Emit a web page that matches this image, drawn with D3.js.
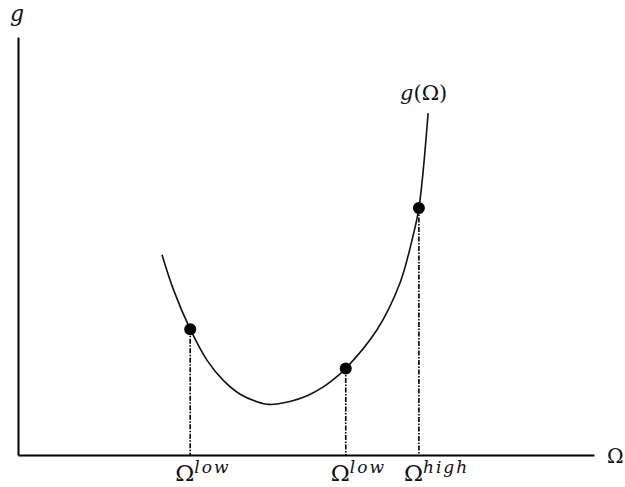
<!DOCTYPE html>
<html>
<head>
<meta charset="utf-8">
<script src="https://cdn.jsdelivr.net/npm/d3@7"></script>
<style>
  html, body { margin: 0; padding: 0; background: #fff; }
  svg { display: block; }
  text { font-family: "DejaVu Serif", "Liberation Serif", serif; fill: #111; }
</style>
</head>
<body>
<svg id="chart" width="625" height="487"></svg>
<script>
// Curve g(Ω): sampled points (Ω, g) in arbitrary units
const curveOmega = [25.0, 27.0, 29.9, 32.8, 35.6, 38.5, 41.4, 43.6, 47.2, 50.1, 53.0, 55.3, 56.9, 62.3, 66.3, 68.4, 69.6, 71.2];
const curveG     = [47.9, 39.5, 30.1, 22.7, 17.9, 14.6, 12.8, 12.1, 12.8, 14.1, 16.3, 18.7, 20.7, 29.9, 41.1, 51.4, 59.1, 81.8];

// Marked points on the curve and their axis labels
const pointOmega = [29.9, 56.9, 69.6];
const pointG     = [30.1, 20.7, 59.1];
const pointBase  = ["Ω", "Ω", "Ω"];
const pointSup   = ["low", "low", "high"];

// Axis titles and curve label
const yTitle = "g";
const xTitle = "Ω";
const curveLabel = ["g", "(Ω)"];

const svg = d3.select("#chart");

const x = d3.scaleLinear().domain([0, 100]).range([18, 594]);
const y = d3.scaleLinear().domain([0, 100]).range([455, 37]);

// Axes: plain lines, no ticks
svg.append("g")
  .attr("transform", `translate(0,${y(0)})`)
  .call(d3.axisBottom(x).tickValues([]).tickSizeOuter(0))
  .call(g => g.select(".domain").attr("stroke", "#000").attr("stroke-width", 2));

svg.append("g")
  .attr("transform", `translate(${x(0)},0)`)
  .call(d3.axisLeft(y).tickValues([]).tickSizeOuter(0))
  .call(g => g.select(".domain").attr("stroke", "#000").attr("stroke-width", 2));

// Dash-dot drop lines from each point down to the Ω axis
svg.append("g")
  .selectAll("line")
  .data(pointOmega)
  .join("line")
  .attr("x1", d => x(d))
  .attr("x2", d => x(d))
  .attr("y1", (d, i) => y(pointG[i]))
  .attr("y2", y(0))
  .attr("stroke", "#000")
  .attr("stroke-width", 1.6)
  .attr("stroke-dasharray", "5,1.5,1.5,1.5");

// The curve
const line = d3.line()
  .x(d => x(d[0]))
  .y(d => y(d[1]))
  .curve(d3.curveCatmullRom.alpha(0.5));

svg.append("path")
  .datum(d3.zip(curveOmega, curveG))
  .attr("d", line)
  .attr("fill", "none")
  .attr("stroke", "#111")
  .attr("stroke-width", 1.6);

// Points
svg.append("g")
  .selectAll("circle")
  .data(pointOmega)
  .join("circle")
  .attr("cx", d => x(d))
  .attr("cy", (d, i) => y(pointG[i]))
  .attr("r", 6)
  .attr("fill", "#000");

// Labels under the Ω axis
const lbl = svg.append("g")
  .selectAll("text")
  .data(pointOmega)
  .join("text")
  .attr("x", d => x(d) - 15)
  .attr("y", 481);
lbl.append("tspan")
  .attr("font-size", 23)
  .text((d, i) => pointBase[i]);
lbl.append("tspan")
  .attr("font-size", 17)
  .attr("font-style", "italic")
  .attr("letter-spacing", 2)
  .attr("dy", -8)
  .text((d, i) => pointSup[i]);

// Axis titles
svg.append("text")
  .attr("x", 10).attr("y", 21)
  .attr("font-size", 22)
  .attr("font-style", "italic")
  .text(yTitle);

svg.append("text")
  .attr("x", 607).attr("y", 463)
  .attr("font-size", 20)
  .text(xTitle);

// Curve label g(Ω)
const cl = svg.append("text")
  .attr("x", 400).attr("y", 100)
  .attr("font-size", 21);
cl.append("tspan").attr("font-style", "italic").text(curveLabel[0]);
cl.append("tspan").text(curveLabel[1]);
</script>
</body>
</html>
